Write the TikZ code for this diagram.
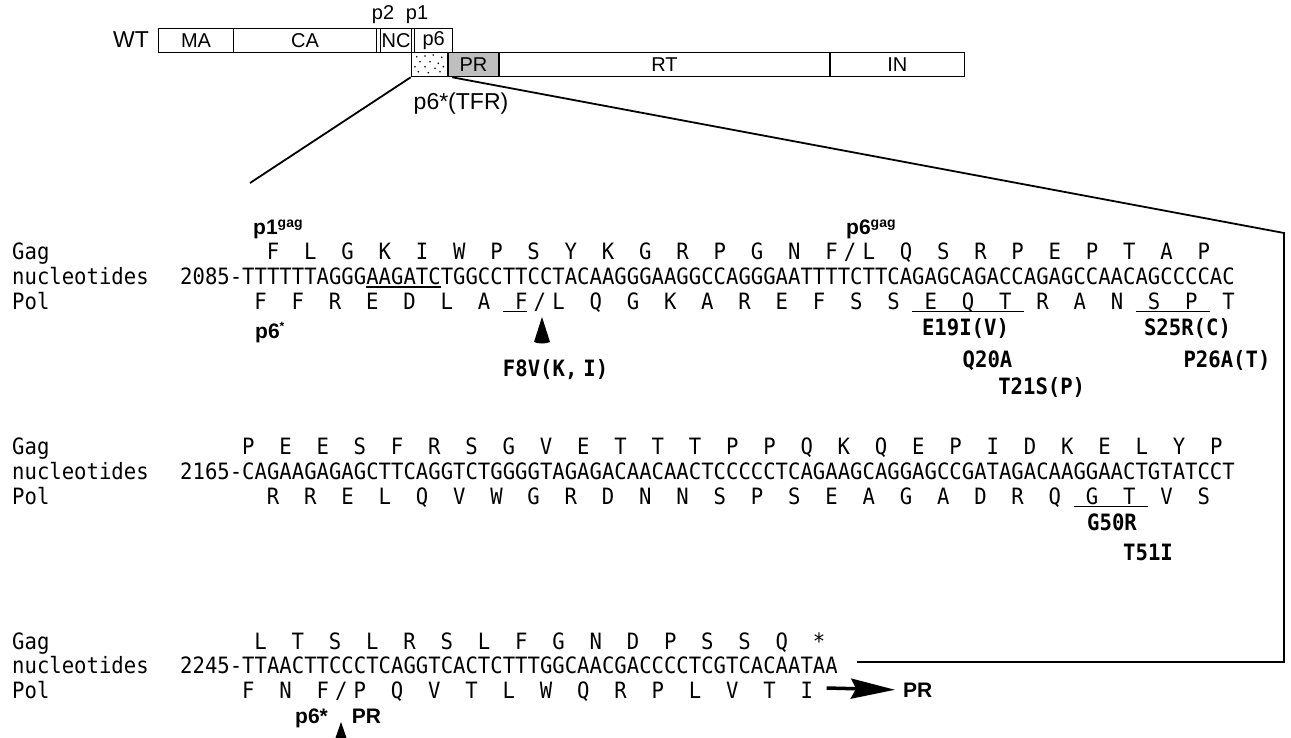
\documentclass[tikz,border=0pt]{standalone}
\usepackage{fontspec}
\setmainfont{Liberation Sans}
\newfontfamily\seqfont[FakeStretch=0.916]{DejaVu Sans Mono}
\usetikzlibrary{arrows.meta}
\newcommand\aarow[4]{\foreach \a [count=\i from 0] in {#4} {\node[seq, name=#1\i] at ({248.26+12.41*(#3+3*\i)}, #2) {\a};}}
\newcommand\xn[1]{248.26+12.41*(#1)}
\begin{document}
\begin{tikzpicture}[x=1pt,y=-1pt,
 seq/.style={font=\seqfont\fontsize{22.5}{22.5}\selectfont, inner sep=0pt, anchor=base},
 seqw/.style={seq, anchor=base west},
 mut/.style={font=\seqfont\bfseries\fontsize{22.5}{22.5}\selectfont, inner sep=0pt, anchor=base},
 blab/.style={font=\bfseries\fontsize{21}{21}\selectfont, inner sep=0pt, anchor=base west},
 gbox/.style={draw, line width=1.3pt, inner sep=0pt, minimum height=24pt, anchor=north west, font=\fontsize{20}{20}\selectfont},
 glab/.style={font=\fontsize{20}{20}\selectfont, inner sep=0pt},
 conn/.style={line width=1.8pt},
 uline/.style={line width=1.8pt},
 ]
\useasboundingbox (0,0) rectangle (1291,738);
% ---------- genome map ----------
\node[glab, font=\fontsize{23}{23}\selectfont] (wt) at (131,40) {WT};
\node[gbox, minimum width=74.7pt] (ma) at (158,28) {MA};
\node[gbox, minimum width=143.3pt] (ca) at (232.7,28) {CA};
\node[gbox, minimum width=4pt] (p2) at (376,28) {};
\node[gbox, minimum width=30.7pt] (nc) at (380,28) {NC};
\node[gbox, minimum width=3.3pt] (p1) at (410.7,28) {};
\node[gbox, minimum width=38pt] (p6) at (414,28) {p6};
\node[glab] (lp2) at (383,15) {p2};
\node[glab] (lp1) at (417,15) {p1};
\node[gbox, minimum width=36.6pt] (tfr) at (410.7,52) {};
\node[gbox, minimum width=51pt, fill=black!25] (pr) at (447.3,52) {PR};
\node[gbox, minimum width=331pt] (rt) at (498.3,52) {RT};
\node[gbox, minimum width=134.7pt] (in) at (829.3,52) {IN};
\foreach \p in {(416.7,56.7),(425,56),(433.3,55),(441.7,57.3),(420,61.7),(430,61.7),(438.3,63.3),(415,66.7),(425,66.7),(435,68.3),(443.3,66.7),(418.3,71.7),(428.3,72.7),(440,71.7)}
  \fill \p circle (0.9pt);
\node[glab, font=\fontsize{23}{23}\selectfont, anchor=base] (tfrlab) at (461,110) {p6*(TFR)};
% ---------- zoom connectors ----------
\coordinate (lend) at (250,183);
\coordinate (c1) at (1284,233);
\coordinate (c2) at (1284,662);
\coordinate (c3) at (857,662);
\draw[conn] (tfr.south west) -- (lend);
\draw[conn] ([xshift=5pt]pr.south west) -- (c1) -- (c2) -- (c3);
% ---------- row labels ----------
\foreach \y/\r in {259.2/1,454.2/2,649.2/3} \node[seqw] (gag\r) at (12,\y) {Gag};
\foreach \y/\r in {284.2/1,479.2/2,673.7/3} \node[seqw] (nuc\r) at (12,\y) {nucleotides};
\foreach \y/\r in {309.2/1,504.2/2,698.2/3} \node[seqw] (pol\r) at (12,\y) {Pol};
% ---------- row 1 ----------
\node[blab] (p1gag) at (253,235) {p1\raisebox{7pt}{\fontsize{14}{14}\selectfont gag}};
\node[blab] (p6gag) at (846,235) {p6\raisebox{7pt}{\fontsize{14}{14}\selectfont gag}};
\aarow{ga}{259.2}{2}{F,L,G,K,I,W,P,S,Y,K,G,R,P,G,N,F,L,Q,S,R,P,E,P,T,A,P}
\node[seq] (sl1) at ({\xn{48.5}},259.2) {/};
\node[seqw] (s1) at (180,284.2) {2085-TTTTTTAGGGAAGATCTGGCCTTCCTACAAGGGAAGGCCAGGGAATTTTCTTCAGAGCAGACCAGAGCCAACAGCCCCAC};
\aarow{pa}{309.2}{1}{F,F,R,E,D,L,A,F,L,Q,G,K,A,R,E,F,S,S,E,Q,T,R,A,N,S,P,T}
\node[seq] (sl2) at ({\xn{23.5}},309.2) {/};
\draw[uline] ({\xn{10}-6.2},287) -- ({\xn{15}+6.2},287);
\draw[uline] ({\xn{21}-6.2},311.5) -- ({\xn{22}+6.2},311.5);
\draw[uline] ({\xn{54}-6.2},311.5) -- ({\xn{62}+6.2},311.5);
\draw[uline] ({\xn{72}-6.2},311.5) -- ({\xn{77}+6.2},311.5);
\node[blab] (p6s) at (255,338) {p6\raisebox{8pt}{\fontsize{12}{12}\selectfont *}};
\fill (534,342) -- (542,317) -- (550,342) .. controls (546,344) and (538,344) .. (534,342) -- cycle;
\node[mut] (m1) at (555.6,376) {\spaceskip=6pt F8V(K, I)};
\node[mut] (m2) at (965.5,335) {E19I(V)};
\node[mut] (m3) at (987.5,367) {Q20A};
\node[mut] (m4) at (1041.7,394) {T21S(P)};
\node[mut] (m5) at (1187.5,335) {S25R(C)};
\node[mut] (m6) at (1227,367) {P26A(T)};
% ---------- row 2 ----------
\aarow{gb}{454.2}{0}{P,E,E,S,F,R,S,G,V,E,T,T,T,P,P,Q,K,Q,E,P,I,D,K,E,L,Y,P}
\node[seqw] (s2) at (180,479.2) {2165-CAGAAGAGAGCTTCAGGTCTGGGGTAGAGACAACAACTCCCCCTCAGAAGCAGGAGCCGATAGACAAGGAACTGTATCCT};
\aarow{pb}{504.2}{2}{R,R,E,L,Q,V,W,G,R,D,N,N,S,P,S,E,A,G,A,D,R,Q,G,T,V,S}
\draw[uline] ({\xn{67}-6.2},506.5) -- ({\xn{72}+6.2},506.5);
\node[mut] (m7) at (1112,530) {G50R};
\node[mut] (m8) at (1148,560) {T51I};
% ---------- row 3 ----------
\aarow{gc}{649.2}{1}{L,T,S,L,R,S,L,F,G,N,D,P,S,S,Q,*}
\node[seqw] (s3) at (180,673.7) {2245-TTAACTTCCCTCAGGTCACTCTTTGGCAACGACCCCTCGTCACAATAA};
\aarow{pc}{698.2}{0}{F,N,F,P,Q,V,T,L,W,Q,R,P,L,V,T,I}
\node[seq] (sl3) at ({\xn{7.5}},698.2) {/};
\node[blab] (p6c) at (295,723) {p6*};
\node[blab] (prc) at (351.7,723) {PR};
\fill (332,748) -- (341,722) -- (350,748) -- cycle;
\node[blab] (prlab) at (903,697) {PR};
\coordinate (arst) at (826.7,688);
\draw[line width=3.5pt, -{Stealth[length=44pt, width=20pt, inset=5pt]}] (arst) -- ([xshift=-8pt]prlab.west);
\end{tikzpicture}
\end{document}
